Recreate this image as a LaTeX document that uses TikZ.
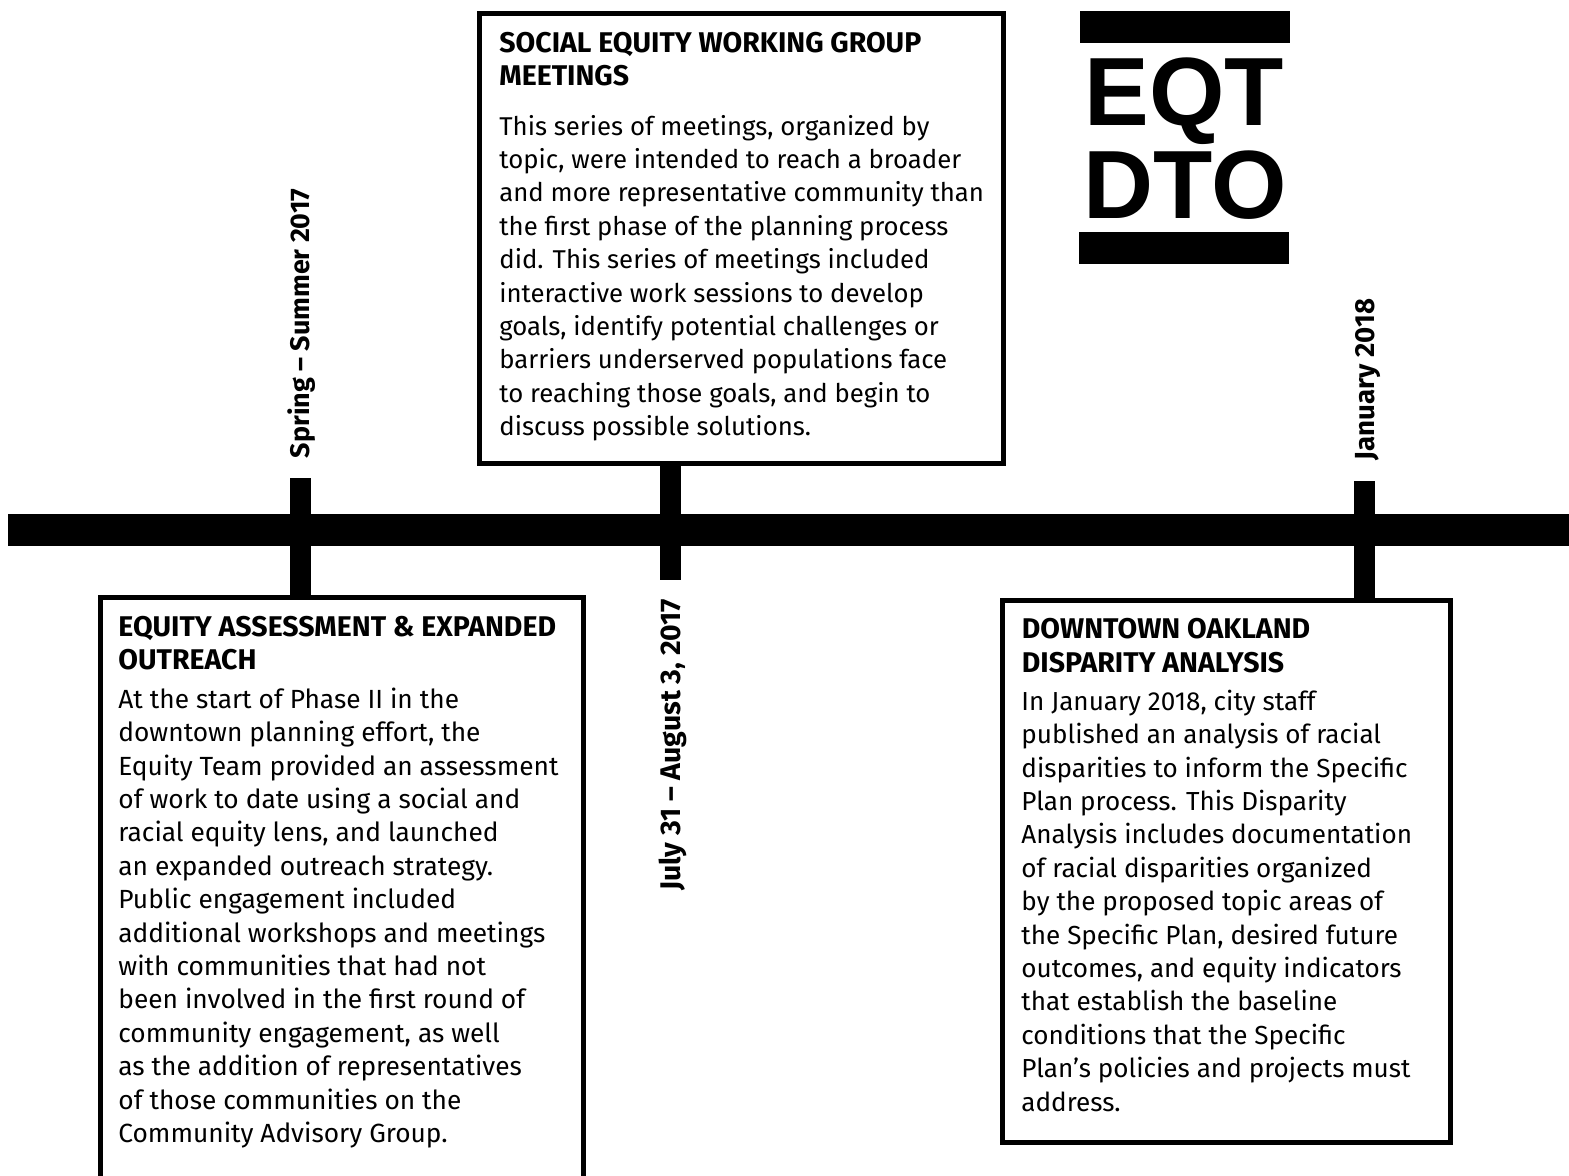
\documentclass[tikz,border=0pt]{standalone}
\usepackage{fontspec}
\setmainfont{Fira Sans}
\newfontfamily\logofont{Liberation Sans}
\definecolor{ink}{HTML}{000000}
\tikzset{
  x=0.5pt,y=-0.5pt,
  infobox/.style={draw=ink,line width=2.5pt},
  bodytext/.style={inner sep=0pt,anchor=base west,align=left,text=ink,font=\fontsize{13.15pt}{16.7pt}\selectfont},
  bodynarrow/.style={bodytext,font=\fontsize{12.87pt}{16.7pt}\selectfont},
  bodymid/.style={bodytext,font=\fontsize{13.05pt}{16.7pt}\selectfont},
  headtext/.style={inner sep=0pt,anchor=base west,align=left,text=ink,font=\fontsize{14.25pt}{16.7pt}\selectfont\bfseries},
  datetext/.style={inner sep=0pt,rotate=90,anchor=west,text=ink},
  spine/.style={draw=ink,line width=16pt},
  tickline/.style={draw=ink,line width=10.5pt},
  logobar/.style={fill=ink,draw=none},
  logotext/.style={inner sep=0pt,anchor=base,text=ink,font=\fontsize{48.5pt}{49pt}\selectfont\logofont\bfseries},
}
\begin{document}
\begin{tikzpicture}
\useasboundingbox (0,0) rectangle (1569,1175);
\fill[white] (0,0) rectangle (1569,1175);
\coordinate (spineL) at (8,530);
\coordinate (spineR) at (1569,530);
\coordinate (tickA) at (300.5,478);
\coordinate (tickB) at (670.5,580);
\coordinate (tickC) at (1364,481);
\coordinate (boxBfoot) at (670.5,463);
\coordinate (boxAhead) at (300.5,596);
\coordinate (boxChead) at (1364,599);
\draw[spine] (spineL) -- (spineR);
\draw[tickline] (tickA) -- (boxAhead);
\draw[tickline] (boxBfoot) -- (tickB);
\draw[tickline] (tickC) -- (boxChead);
% boxes
\draw[infobox] (479.5,13.5) rectangle (1003,463);
\draw[infobox] (100,597.5) rectangle (583,1185);
\draw[infobox] (1002.5,600.5) rectangle (1450.5,1142.5);
% box B
\node[headtext] (headB) at (499,85.5) {SOCIAL EQUITY WORKING GROUP\\MEETINGS};
\node[bodynarrow] (bodyB) at (499,435.6) {This series of meetings, organized by\\topic, were intended to reach a broader\\and more representative community than\\the first phase of the planning process\\did. This series of meetings included\\interactive work sessions to develop\\goals, identify potential challenges or\\barriers underserved populations face\\to reaching those goals, and begin to\\discuss possible solutions.};
% box A
\node[headtext] (headA) at (118,669.5) {EQUITY ASSESSMENT \& EXPANDED\\OUTREACH};
\node[bodytext] (bodyA) at (118,1142.5) {At the start of Phase II in the\\downtown planning effort, the\\Equity Team provided an assessment\\of work to date using a social and\\racial equity lens, and launched\\an expanded outreach strategy.\\Public engagement included\\additional workshops and meetings\\with communities that had not\\been involved in the first round of\\community engagement, as well\\as the addition of representatives\\of those communities on the\\Community Advisory Group.};
% box C
\node[headtext] (headC) at (1021.5,672) {DOWNTOWN OAKLAND\\DISPARITY ANALYSIS};
\node[bodymid] (bodyC) at (1021,1111) {In January 2018, city staff\\published an analysis of racial\\disparities to inform the Specific\\Plan process. This Disparity\\Analysis includes documentation\\of racial disparities organized\\by the proposed topic areas of\\the Specific Plan, desired future\\outcomes, and equity indicators\\that establish the baseline\\conditions that the Specific\\Plan’s policies and projects must\\address.};
% dates
\node[datetext,font=\fontsize{13.45pt}{15pt}\selectfont\bfseries] (dateA) at (302,458.5) {Spring – Summer 2017};
\node[datetext,font=\fontsize{14.2pt}{15pt}\selectfont\bfseries] (dateB) at (672.5,891) {July 31 – August 3, 2017};
\node[datetext,font=\fontsize{13.8pt}{15pt}\selectfont\bfseries] (dateC) at (1368,460.5) {January 2018};
% logo
\fill[logobar] (1080,11) rectangle (1290,43);
\fill[logobar] (1079,232) rectangle (1289,264);
\node[logotext] (logoA) at (1184,125) {EQT};
\node[logotext] (logoB) at (1185,218) {DTO};
\end{tikzpicture}
\end{document}
